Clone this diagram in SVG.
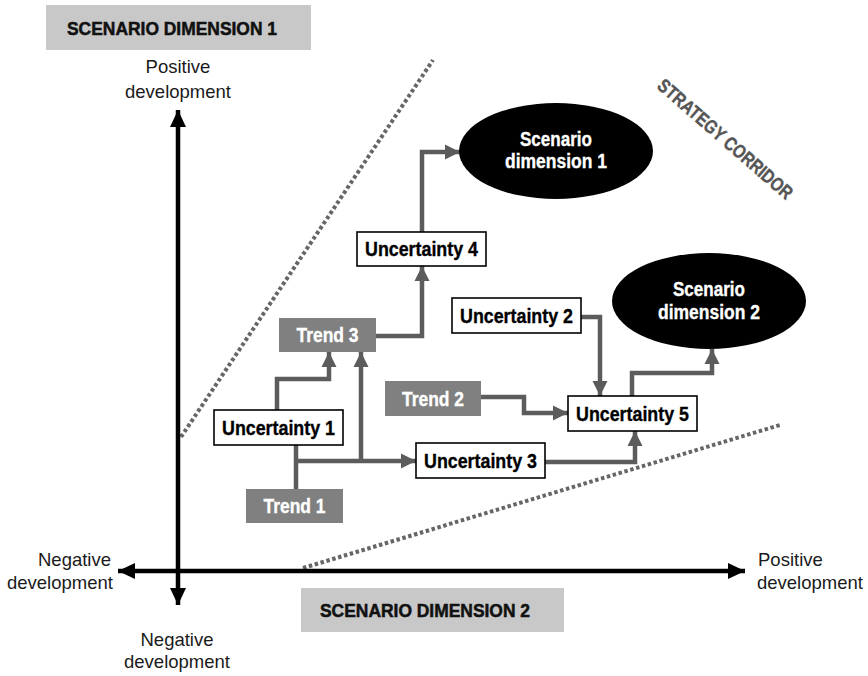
<svg xmlns="http://www.w3.org/2000/svg" width="868" height="676" viewBox="0 0 868 676">
  <defs>
    <style>
      text { font-family: "Liberation Sans", Arial, "DejaVu Sans", sans-serif; }
      .axis-t { font-size: 18.5px; fill: #1a1a1a; }
      .head { font-size: 17.5px; fill: #111; stroke: #111; stroke-width: 0.5; font-weight: bold; }
      .box { fill: #fff; stroke: #000; stroke-width: 1.6; }
      .trend { fill: #808080; }
      .node-t { font-size: 21px; font-weight: bold; text-anchor: middle; fill: #000; stroke: #000; stroke-width: 0.35; }
      .trend-t { font-size: 21px; font-weight: bold; text-anchor: middle; fill: #fff; stroke: #fff; stroke-width: 0.35; }
      .ell-t { font-size: 20px; font-weight: bold; text-anchor: middle; fill: #fff; stroke: #fff; stroke-width: 0.35; }
      .corr { font-size: 19px; font-weight: bold; fill: #555; stroke: #555; stroke-width: 0.4; text-anchor: middle; }
      .conn { fill: none; stroke: #5c5c5c; stroke-width: 4.5; stroke-linejoin: miter; }
      .axis { stroke: #000; stroke-width: 4.5; fill: none; }
      .dots { stroke: #666; stroke-width: 4; stroke-dasharray: 3.5 2.6; fill: none; }
    </style>
    <marker id="ah" markerUnits="userSpaceOnUse" markerWidth="16" markerHeight="16" refX="15" refY="8" orient="auto">
      <path d="M0,0.5 L15,8 L0,15.5 Z" fill="#5c5c5c"/>
    </marker>
    <marker id="ak" markerUnits="userSpaceOnUse" markerWidth="18" markerHeight="17" refX="17" refY="8" orient="auto-start-reverse">
      <path d="M0,0 L17,8 L0,16 Z" fill="#000"/>
    </marker>
  </defs>

  <rect width="868" height="676" fill="#fff"/>

  <!-- headings -->
  <g id="dim1-label">
    <rect x="46" y="5" width="265" height="45" fill="#c8c8c8"/>
    <text class="head" x="67" y="35" textLength="210" lengthAdjust="spacingAndGlyphs">SCENARIO DIMENSION 1</text>
  </g>
  <g id="dim2-label">
    <rect x="301" y="588" width="263" height="44" fill="#c8c8c8"/>
    <text class="head" x="320" y="617" textLength="210" lengthAdjust="spacingAndGlyphs">SCENARIO DIMENSION 2</text>
  </g>

  <!-- corridor boundaries -->
  <g id="corridor">
    <line class="dots" x1="181" y1="437" x2="433" y2="60"/>
    <line class="dots" x1="303" y1="568" x2="780" y2="425"/>
    <text class="corr" x="721" y="144" textLength="172" lengthAdjust="spacingAndGlyphs" transform="rotate(41 721 144)">STRATEGY CORRIDOR</text>
  </g>

  <!-- axes -->
  <g id="axes">
    <line class="axis" x1="178" y1="605" x2="178" y2="110" marker-start="url(#ak)" marker-end="url(#ak)"/>
    <line class="axis" x1="118" y1="571" x2="745" y2="571" marker-start="url(#ak)" marker-end="url(#ak)"/>
    <text class="axis-t" x="178" y="73" text-anchor="middle">Positive</text>
    <text class="axis-t" x="178" y="98" text-anchor="middle">development</text>
    <text class="axis-t" x="38" y="566">Negative</text>
    <text class="axis-t" x="7" y="589">development</text>
    <text class="axis-t" x="758" y="566">Positive</text>
    <text class="axis-t" x="757" y="589">development</text>
    <text class="axis-t" x="177" y="646" text-anchor="middle">Negative</text>
    <text class="axis-t" x="177" y="668" text-anchor="middle">development</text>
  </g>

  <!-- connectors -->
  <g id="connectors">
    <path class="conn" d="M296,489 V445"/>
    <path class="conn" d="M296,461 H416" marker-end="url(#ah)"/>
    <path class="conn" d="M361,461 V352" marker-end="url(#ah)"/>
    <path class="conn" d="M277,410 V379 H329 V352" marker-end="url(#ah)"/>
    <path class="conn" d="M376,336 H422 V266" marker-end="url(#ah)"/>
    <path class="conn" d="M422,232 V152 H460" marker-end="url(#ah)"/>
    <path class="conn" d="M581,317 H600 V396" marker-end="url(#ah)"/>
    <path class="conn" d="M481,397 H524 V413 H568" marker-end="url(#ah)"/>
    <path class="conn" d="M545,462 H635 V431" marker-end="url(#ah)"/>
    <path class="conn" d="M632,396 V373 H712 V349" marker-end="url(#ah)"/>
  </g>

  <!-- nodes -->
  <g id="scenario-1">
    <ellipse cx="556" cy="151" rx="97" ry="48" fill="#000"/>
    <text class="ell-t" x="556" y="146" textLength="72" lengthAdjust="spacingAndGlyphs">Scenario</text>
    <text class="ell-t" x="556" y="168" textLength="102" lengthAdjust="spacingAndGlyphs">dimension 1</text>
  </g>
  <g id="scenario-2">
    <ellipse cx="709" cy="301" rx="97" ry="48" fill="#000"/>
    <text class="ell-t" x="709" y="296" textLength="72" lengthAdjust="spacingAndGlyphs">Scenario</text>
    <text class="ell-t" x="709" y="319" textLength="102" lengthAdjust="spacingAndGlyphs">dimension 2</text>
  </g>
  <g id="uncertainty-4">
    <rect class="box" x="357" y="232" width="129" height="34"/>
    <text class="node-t" x="421.5" y="256" textLength="113" lengthAdjust="spacingAndGlyphs">Uncertainty 4</text>
  </g>
  <g id="trend-3">
    <rect class="trend" x="279" y="318" width="97" height="34"/>
    <text class="trend-t" x="327.5" y="342" textLength="62" lengthAdjust="spacingAndGlyphs">Trend 3</text>
  </g>
  <g id="uncertainty-2">
    <rect class="box" x="452" y="298" width="129" height="35"/>
    <text class="node-t" x="516.5" y="322.5" textLength="113" lengthAdjust="spacingAndGlyphs">Uncertainty 2</text>
  </g>
  <g id="trend-2">
    <rect class="trend" x="385" y="381" width="96" height="35"/>
    <text class="trend-t" x="433" y="405.5" textLength="62" lengthAdjust="spacingAndGlyphs">Trend 2</text>
  </g>
  <g id="uncertainty-5">
    <rect class="box" x="568" y="396" width="129" height="35"/>
    <text class="node-t" x="632.5" y="420.5" textLength="113" lengthAdjust="spacingAndGlyphs">Uncertainty 5</text>
  </g>
  <g id="uncertainty-1">
    <rect class="box" x="214" y="410" width="129" height="35"/>
    <text class="node-t" x="278.5" y="434.5" textLength="113" lengthAdjust="spacingAndGlyphs">Uncertainty 1</text>
  </g>
  <g id="uncertainty-3">
    <rect class="box" x="416" y="443" width="129" height="35"/>
    <text class="node-t" x="480.5" y="467.5" textLength="113" lengthAdjust="spacingAndGlyphs">Uncertainty 3</text>
  </g>
  <g id="trend-1">
    <rect class="trend" x="246" y="489" width="97" height="34"/>
    <text class="trend-t" x="294.5" y="513" textLength="62" lengthAdjust="spacingAndGlyphs">Trend 1</text>
  </g>
</svg>
